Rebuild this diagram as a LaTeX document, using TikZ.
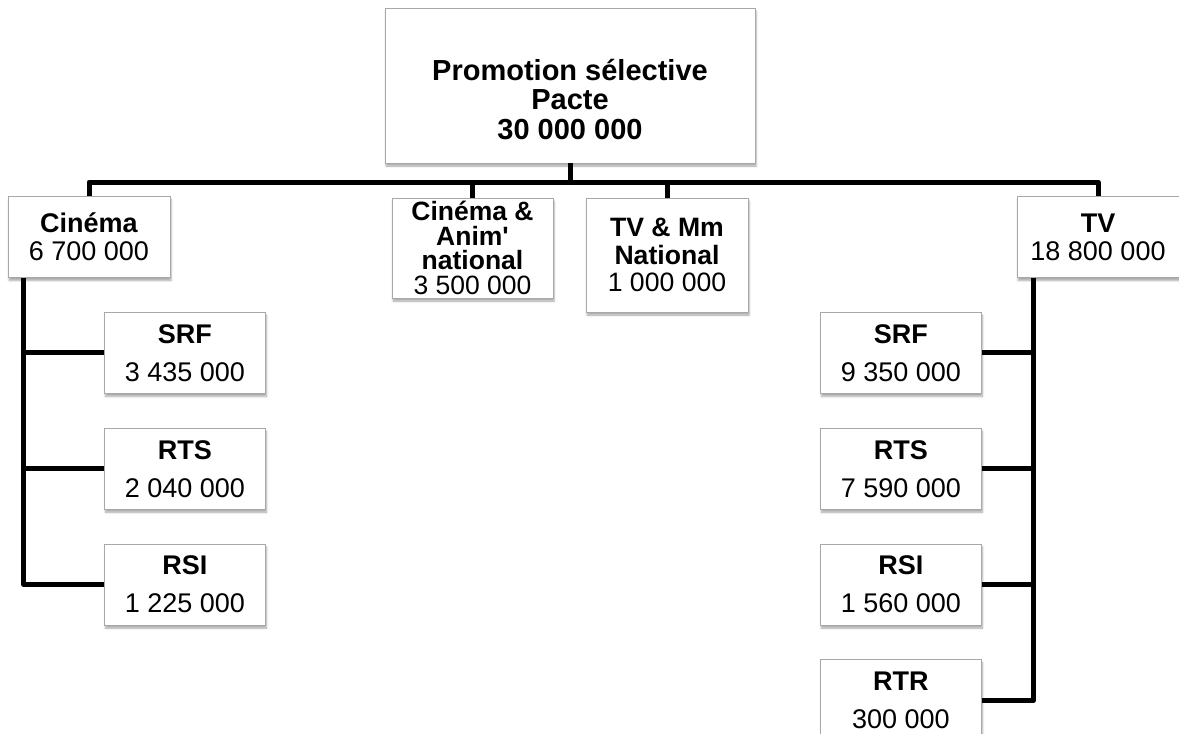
\documentclass[tikz,border=0pt]{standalone}
\usepackage{fontspec}
\setmainfont{Liberation Sans}
\usetikzlibrary{positioning, shadows.blur}
\definecolor{boxgray}{RGB}{168,168,168}

\begin{document}
\begin{tikzpicture}[
  x=1pt, y=-1pt,
  node distance=34pt,
  font=\fontsize{27}{28}\selectfont,
  box/.style={rectangle, draw=boxgray, line width=0.8pt, fill=white, align=center, inner sep=0pt,
              blur shadow={shadow xshift=1pt, shadow yshift=-3pt, shadow blur steps=5, shadow opacity=35}},
  topbox/.style={box, minimum width=370pt, minimum height=155pt, font=\fontsize{29}{29.5}\selectfont\bfseries},
  midbox/.style={box, minimum width=162pt, minimum height=81pt},
  subbox/.style={box, minimum width=161pt, minimum height=81pt},
  link/.style={line width=5pt, line join=round},
]
\useasboundingbox (0,0) rectangle (1179,734);

\node[topbox] (pacte) at (570,85.5) {\rule{0pt}{49pt}Promotion sélective\\Pacte\\30 000 000};

\node[midbox] (cine) at (89,237) {\textbf{Cinéma}\\6 700 000};
\node[box, minimum width=161pt, minimum height=100pt, font=\fontsize{26.5}{24.7}\selectfont] (anim) at (472.5,248)
  {\textbf{Cinéma \&}\\\textbf{Anim\textquotesingle}\\\textbf{national}\\3 500 000};
\node[box, minimum width=162pt, minimum height=114pt, font=\fontsize{26.6}{27.5}\selectfont] (tvmm) at (667,255)
  {\textbf{TV \& Mm}\\\textbf{National}\\1 000 000};
\node[midbox] (tv) at (1098,237) {\textbf{TV}\\18 800 000};

% Cinema branch
\node[subbox, anchor=north west] (csrf) at (104,312) {\textbf{SRF}\\[10pt]3 435 000};
\node[subbox, below=of csrf] (crts) {\textbf{RTS}\\[10pt]2 040 000};
\node[subbox, below=of crts] (crsi) {\textbf{RSI}\\[10pt]1 225 000};

% TV branch
\node[subbox, anchor=north west] (tsrf) at (820,312) {\textbf{SRF}\\[10pt]9 350 000};
\node[subbox, below=of tsrf] (trts) {\textbf{RTS}\\[10pt]7 590 000};
\node[subbox, below=of trts] (trsi) {\textbf{RSI}\\[10pt]1 560 000};
\node[subbox, below=of trsi] (trtr) {\textbf{RTR}\\[10pt]300 000};

\coordinate (bus) at (570,182);
\coordinate (ctrunk) at ([xshift=16pt]cine.south west);
\coordinate (ttrunk) at ([xshift=17pt]tv.south west);

\draw[link] (pacte.south) -- (bus);
\foreach \n in {cine, anim, tvmm, tv}
  \draw[link] (\n.north) |- (bus);

\draw[link] (ctrunk) |- (crsi.west);
\foreach \b in {csrf, crts}
  \draw[link] (ctrunk |- \b.west) -- (\b.west);

\draw[link] (ttrunk) |- (trtr.east);
\foreach \b in {tsrf, trts, trsi}
  \draw[link] (ttrunk |- \b.east) -- (\b.east);

\end{tikzpicture}
\end{document}
